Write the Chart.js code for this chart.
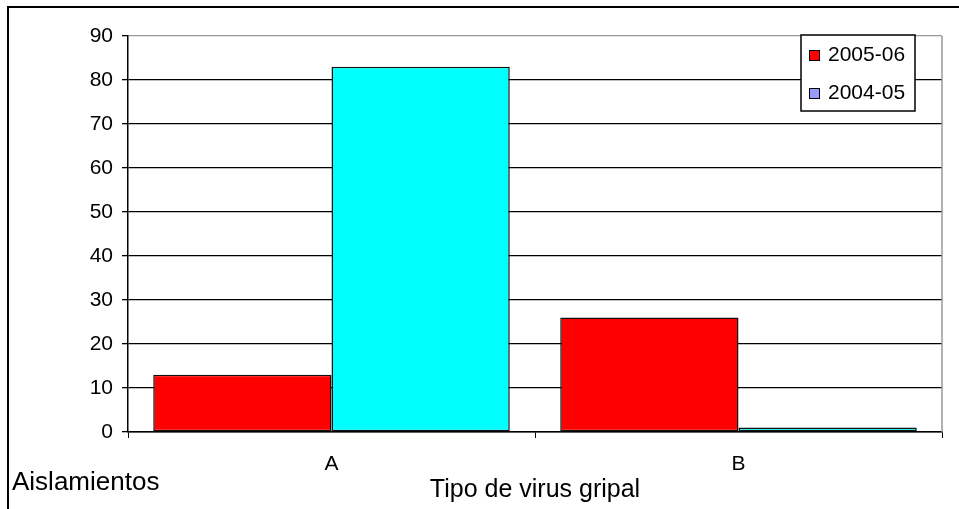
<!DOCTYPE html>
<html>
<head>
<meta charset="utf-8">
<script src="https://cdn.jsdelivr.net/npm/chart.js@4.4.0/dist/chart.umd.min.js"></script>
<style>
    html, body { margin: 0; padding: 0; background: #fff; }
    #contenedor { width: 959px; height: 509px; }
</style>
</head>
<body>
<div id="contenedor"><canvas id="grafico"></canvas></div>
<script>
// datos
const categorias = ['A', 'B'];
const temporadas = ['2005-06', '2004-05'];
const aislamientos0506 = [13, 26];
const aislamientos0405 = [83, 1];
const ticksY = [0, 10, 20, 30, 40, 50, 60, 70, 80, 90];

const fuente = 'Liberation Sans, Arial, sans-serif';

// marco exterior, borde gris del area y texto "Aislamientos"
const marco = {
    id: 'marco',
    beforeDraw(chart) {
        const ctx = chart.ctx;
        ctx.save();
        ctx.fillStyle = '#fff';
        ctx.fillRect(0, 0, chart.width, chart.height);
        ctx.strokeStyle = '#000';
        ctx.lineWidth = 2;
        ctx.beginPath();
        ctx.moveTo(8, chart.height);
        ctx.lineTo(8, 7);
        ctx.lineTo(chart.width, 7);
        ctx.stroke();
        ctx.restore();
    },
    afterDatasetsDraw(chart) {
        const ctx = chart.ctx;
        const area = chart.chartArea;
        ctx.save();
        ctx.strokeStyle = '#999';
        ctx.lineWidth = 1.5;
        ctx.beginPath();
        ctx.moveTo(area.right, area.top);
        ctx.lineTo(area.right, area.bottom);
        ctx.stroke();

        ctx.fillStyle = '#000';
        ctx.font = '26px ' + fuente;
        ctx.textBaseline = 'middle';
        ctx.textAlign = 'left';
        ctx.fillText('Aislamientos', 12, 483);
        ctx.restore();
    }
};

// leyenda con recuadro dentro del area del grafico
const leyenda = {
    id: 'leyendaCaja',
    afterDraw(chart) {
        const ctx = chart.ctx;
        const x = 801, y = 35, w = 114, h = 76;
        const colores = ['#ff0000', '#9999ff'];
        ctx.save();
        ctx.fillStyle = '#fff';
        ctx.fillRect(x, y, w, h);
        ctx.strokeStyle = '#000';
        ctx.lineWidth = 1.5;
        ctx.strokeRect(x, y, w, h);
        ctx.font = '21px ' + fuente;
        ctx.textBaseline = 'middle';
        chart.data.datasets.forEach((ds, i) => {
            const cy = 55 + i * 38;
            ctx.fillStyle = colores[i];
            ctx.fillRect(809, cy - 5, 10, 10);
            ctx.lineWidth = 1;
            ctx.strokeRect(809.5, cy - 4.5, 10, 10);
            ctx.fillStyle = '#000';
            ctx.fillText(ds.label, 828, cy);
        });
        ctx.restore();
    }
};

const ctx = document.getElementById('grafico').getContext('2d');
new Chart(ctx, {
    type: 'bar',
    data: {
        labels: categorias,
        datasets: [
            {
                label: temporadas[0],
                data: aislamientos0506,
                backgroundColor: '#ff0000',
                borderColor: '#111',
                borderWidth: 1.5,
                borderSkipped: false
            },
            {
                label: temporadas[1],
                data: aislamientos0405,
                backgroundColor: '#00ffff',
                borderColor: '#111',
                borderWidth: 1.5,
                borderSkipped: false
            }
        ]
    },
    options: {
        responsive: true,
        maintainAspectRatio: false,
        animation: false,
        devicePixelRatio: 1,
        layout: { padding: { left: 0, top: 36, right: 17, bottom: 0 } },
        datasets: { bar: { categoryPercentage: 0.876, barPercentage: 1 } },
        plugins: {
            legend: { display: false },
            tooltip: { enabled: false }
        },
        scales: {
            x: {
                offset: true,
                grid: {
                    offset: true,
                    drawOnChartArea: false,
                    drawTicks: true,
                    tickLength: 6,
                    tickColor: '#000'
                },
                border: { color: '#000', width: 1.5 },
                ticks: { color: '#000', padding: 14, font: { family: fuente, size: 21 } },
                title: {
                    display: true,
                    text: 'Tipo de virus gripal',
                    color: '#000',
                    font: { family: fuente, size: 25 },
                    padding: { top: 0, bottom: 4 }
                },
                afterFit(scale) { scale.height = 77; }
            },
            y: {
                min: 0,
                max: 90,
                afterBuildTicks(scale) { scale.ticks = ticksY.map(v => ({ value: v })); },
                grid: {
                    color: c => (c.tick && c.tick.value === 90) ? '#999' : '#000',
                    lineWidth: 1.3,
                    tickLength: 6,
                    tickColor: '#000'
                },
                border: { color: '#000', width: 1.5 },
                ticks: { color: '#000', padding: 9, font: { family: fuente, size: 21 } },
                afterFit(scale) { scale.width = 128; }
            }
        }
    },
    plugins: [marco, leyenda]
});
</script>
</body>
</html>
